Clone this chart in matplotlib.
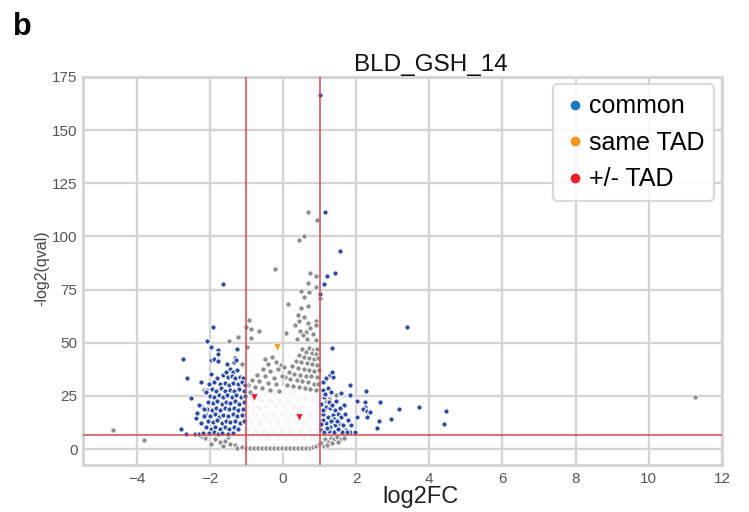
"""
Volcano plot BLD_GSH_14: log2FC vs -log2(qval)
pontos cinza = todos, azul = common, triangulos = same TAD / +/- TAD
"""
import matplotlib
matplotlib.use("Agg")
import matplotlib.pyplot as plt
from matplotlib.lines import Line2D

plt.rcParams["font.family"] = ["Liberation Sans", "DejaVu Sans"]

# --- dados ------------------------------------------------------------------

# pontos cinza visiveis (fora do miolo denso)
gray_x = [0.67, 0.92, 0.56, 0.45, -0.21, 0.74, 0.89, 0.69, 0.89, 0.50, 0.70, 0.56, 1.00,
          0.13, 0.69, 0.50, 0.41, 0.57, 0.45, 0.69, 0.89, 0.32, 0.89, 0.46, 0.64, 0.82,
          0.07, 0.37, 0.65, 0.89, 0.75, 0.55,
          -0.93, -1.02, -0.88, -0.65, -0.88, -1.23, -1.48, -0.98,
          0.52, 0.70, 0.82, 0.93, 0.62, 0.78, 0.90, 0.45, 0.58, 0.72, 0.85, 0.96, 0.35,
          0.50, 0.65, 0.80, 0.92, 0.25, 0.40, 0.56, 0.70, 0.86, 0.97, 0.15, 0.30, 0.46,
          0.62, 0.77, 0.92, 0.05, 0.20, 0.37, 0.53, 0.68, 0.84, 0.96, 0.12, 0.28, 0.44,
          0.60, 0.75, 0.90,
          -0.50, -0.30, -0.40, -0.20, -0.05, -0.55, -0.35, -0.15, 0.04, -0.70, -0.50,
          -0.25, -0.04, -0.85, -0.65, -0.42, -0.20, -0.95, -0.78, -0.58, -0.35, -0.12,
          -0.90, -1.11, -2.16, -2.07,
          -2.14, -1.98, -1.72, -1.58, -1.45, -1.32, -1.27, -1.12, -1.85, -1.65, -1.50, -2.25,
          -1.02, -0.91, -0.80, -0.69, -0.58, -0.47, -0.37, -0.26, -0.15, -0.04, 0.07,
          0.18, 0.29, 0.40, 0.51, 0.62, 0.73, 0.82, 0.90, 0.97,
          1.05, 1.15, 1.22, 1.30, 1.40, 1.48, 1.58, 1.66, 1.12, 1.20, 1.35, 1.50,
          1.44, 1.25, 1.18,
          -4.64, -3.80, 11.26]
gray_y = [111.6, 107.5, 100.1, 98.3, 84.5, 82.8, 81.4, 78.0, 76.3, 74.5, 73.8, 71.3, 71.0,
          68.4, 67.1, 66.4, 62.9, 62.1, 60.4, 59.3, 60.4, 58.1, 58.1, 55.6, 55.1, 54.0,
          54.8, 51.8, 51.6, 51.2, 56.8, 53.4,
          60.6, 57.3, 56.5, 55.6, 52.3, 52.6, 51.0, 48.0,
          47.0, 47.5, 46.8, 47.2, 45.6, 45.3, 44.6, 44.0, 43.2, 43.0, 42.4, 42.9, 41.5,
          40.8, 40.5, 40.0, 39.6, 39.0, 38.2, 37.7, 37.3, 36.8, 37.0, 36.4, 35.5, 35.0,
          34.5, 34.2, 33.7, 33.8, 32.8, 32.3, 31.8, 31.3, 30.8, 30.4, 30.0, 29.5, 29.0,
          28.6, 28.2, 27.8,
          42.4, 43.5, 40.0, 41.0, 39.5, 37.5, 36.8, 37.8, 38.5, 35.0, 34.3,
          33.6, 34.5, 32.5, 31.8, 31.0, 30.6, 30.0, 29.2, 28.5, 28.0, 27.5,
          27.0, 40.2, 27.7, 28.0,
          5.0, 2.3, 3.3, 4.0, 2.5, 1.8, 0.6, 1.0, 4.5, 1.5, 5.5, 6.0,
          0.4, 0.3, 0.4, 0.3, 0.4, 0.3, 0.4, 0.3, 0.4, 0.3, 0.4,
          0.3, 0.4, 0.3, 0.4, 0.5, 0.6, 0.9, 1.2, 2.2,
          3.0, 4.8, 3.2, 5.2, 4.5, 5.6, 4.9, 5.3, 1.5, 2.0, 2.8, 3.3,
          25.4, 23.5, 22.8,
          8.9, 4.2, 24.7]

# miolo denso (quase branco no original: milhares de pontos sobrepostos)
core_x = [-1.00, -0.76, -0.52, -0.27, -0.03, 0.22, 0.46, 0.71, 0.94,
          -1.12, -0.88, -0.63, -0.40, -0.14, 0.10, 0.34, 0.59, 0.83, 1.06,
          -1.00, -0.75, -0.51, -0.26, -0.02, 0.23, 0.47, 0.72, 0.96,
          -1.10, -0.86, -0.62, -0.38, -0.13, 0.11, 0.36, 0.60, 0.85, 1.05,
          -0.98, -0.74, -0.50, -0.25, 0.00, 0.24, 0.49, 0.73, 0.97,
          -0.92, -0.68, -0.43, -0.19, 0.06, 0.30, 0.55, 0.79, 0.99,
          -0.85, -0.60, -0.36, -0.11, 0.13, 0.38, 0.62, 0.86,
          -0.50, -0.25, 0.00, 0.25]
core_y = [1.8, 2.0, 1.7, 2.1, 1.9, 1.8, 2.0, 1.7, 2.2,
          5.5, 5.3, 5.7, 5.4, 5.6, 5.5, 5.2, 5.6, 5.4, 5.8,
          9.3, 9.1, 9.5, 9.2, 9.4, 9.3, 9.0, 9.5, 9.2,
          13.1, 13.3, 12.9, 13.2, 13.0, 13.4, 13.1, 12.8, 13.2, 13.0,
          16.9, 17.1, 16.7, 17.0, 16.8, 17.2, 16.9, 16.6, 17.0,
          20.6, 20.4, 20.8, 20.5, 20.7, 20.3, 20.6, 20.9, 20.5,
          24.0, 24.2, 23.8, 24.1, 23.9, 24.3, 24.0, 23.7,
          26.8, 26.6, 26.9, 26.7]

# genes "common"
blue_x = [1.02, 1.14, 1.55, 1.19, 1.42, -1.63, 1.11, 1.00, 3.38, -1.91, 1.33,
          -2.09, -1.97, -1.78, -1.79, -1.25, -2.74, -1.98, -1.90, -1.77, -1.52, -1.32,
          -1.34, -1.28, -2.62, -2.25, -1.96, -1.64,
          -1.45, -1.38, -1.25, -1.55,
          -1.80, -1.50, -1.40, -1.30, -1.18, -1.10,
          -2.02, -1.88, -1.72, -1.60, -1.48, -1.36, -1.24, -1.12, -1.04,
          -2.10, -1.95, -1.82, -1.70, -1.58, -1.45, -1.33, -1.20, -1.08,
          -2.00, -1.88, -1.76, -1.64, -1.52, -1.40, -1.28, -1.16, -1.05,
          -2.05, -1.92, -1.80, -1.68, -1.56, -1.44, -1.32, -1.20, -1.08,
          -2.08, -1.95, -1.83, -1.71, -1.59, -1.47, -1.35, -1.22, -1.10,
          -2.12, -2.00, -1.87, -1.75, -1.63, -1.50, -1.38, -1.25, -1.12,
          -2.05, -1.92, -1.80, -1.68, -1.56, -1.44, -1.32, -1.18, -1.06,
          -2.10, -1.97, -1.85, -1.72, -1.60, -1.48, -1.35, -1.22,
          -2.02, -1.90, -1.78, -1.66, -1.50, -1.38,
          -2.52, -2.25, -2.15, -2.15, -2.37, -2.25, -2.80, -2.64, -2.42, -2.30, -2.18,
          -2.30, -2.35,
          1.18, 1.28, 1.37, 1.35, 1.09, 1.23, 1.32, 1.08, 1.11, 1.18, 1.28, 1.41, 1.50,
          1.59, 1.53, 1.41, 1.28, 1.18, 1.09, 1.23, 1.37, 1.64, 1.73, 1.82, 1.96, 1.87,
          1.78, 1.69,
          1.82, 1.58, 1.82, 1.66, 2.02, 2.26, 2.23, 2.23, 2.64, 2.19, 2.30, 2.39, 2.03,
          2.30, 2.62, 2.94, 3.16, 2.56, 1.76, 1.62,
          1.05, 1.10, 1.05, 1.15, 1.25, 1.35, 1.45, 1.40, 1.12, 1.25, 1.38, 1.50, 1.55,
          1.05, 1.08, 1.20, 1.47, 1.32,
          3.73, 4.45, 4.39]
blue_y = [166.3, 111.6, 93.3, 81.4, 82.8, 77.5, 77.5, 72.8, 57.3, 57.3, 47.7,
          51.0, 47.9, 46.4, 44.9, 47.2, 42.4, 41.8, 42.3, 41.6, 40.1, 42.8,
          40.8, 41.8, 33.6, 31.6, 35.5, 34.7,
          37.5, 36.2, 37.0, 36.0,
          33.5, 33.8, 34.5, 33.2, 34.0, 33.5,
          30.8, 31.5, 30.5, 31.2, 30.3, 31.0, 30.5, 31.4, 30.0,
          27.0, 28.2, 27.5, 28.5, 27.3, 28.0, 27.5, 28.3, 27.2,
          25.0, 24.5, 25.5, 24.3, 25.2, 24.6, 25.4, 24.4, 25.0,
          22.0, 21.5, 22.5, 21.3, 22.2, 21.6, 22.4, 21.2, 22.0,
          19.0, 18.5, 19.5, 18.3, 19.2, 18.6, 19.4, 18.4, 19.0,
          16.0, 15.5, 16.5, 15.3, 16.2, 15.6, 16.4, 15.4, 16.0,
          13.0, 12.5, 13.5, 12.3, 13.2, 12.6, 13.4, 12.4, 13.0,
          10.5, 9.5, 10.4, 9.3, 10.2, 9.6, 10.5, 9.4,
          7.4, 7.8, 7.2, 7.6, 7.3, 7.7,
          23.8, 20.3, 18.8, 15.5, 14.6, 12.4, 9.2, 7.0, 7.2, 7.2, 7.5,
          20.7, 17.0,
          33.2, 34.7, 34.0, 36.0, 31.6, 28.5, 26.9, 27.7, 24.3, 19.9, 19.1, 18.3, 16.7,
          15.2, 12.1, 11.3, 10.5, 12.1, 13.6, 15.2, 16.0, 11.3, 8.9, 8.1, 8.1, 11.3,
          13.6, 16.7,
          30.0, 26.4, 25.4, 20.7, 22.5, 27.1, 22.1, 20.0, 22.2, 18.6, 17.8, 17.4, 15.2,
          14.9, 13.3, 13.9, 18.6, 9.7, 8.0, 8.0,
          9.0, 16.5, 21.0, 26.0, 22.0, 20.5, 22.5, 14.0, 7.8, 8.5, 8.0, 9.5, 19.5,
          12.0, 18.5, 10.0, 13.2, 13.0,
          20.0, 17.8, 12.0]

# same TAD e +/- TAD
same_x = [-0.17]
same_y = [47.9]
pm_x = [-0.80, 0.43]
pm_y = [24.3, 15.2]

LIMIAR_FC = 1
LIMIAR_Q = 6.64  # -log2(0.01)

# --- grafico ----------------------------------------------------------------
GRADE = "#d4d4d4"
CINZA = "#8e8e8e"
AZUL = "#2b4ca6"
VERMELHO = "#cf4a52"

fig = plt.figure(figsize=(7.49, 5.12), dpi=100)
ax = fig.add_axes([0.1108, 0.0918, 0.853, 0.758])
ax.set_axisbelow(True)
ax.grid(True, color=GRADE, linewidth=1.7)
for sp in ax.spines.values():
    sp.set_color(GRADE)
    sp.set_linewidth(2.0)
ax.tick_params(length=0, labelsize=11, labelcolor="#555555")
ax.tick_params(axis="x", pad=5)
ax.tick_params(axis="y", pad=4)

ax.scatter(core_x, core_y, s=60, c="#f6f6f6", edgecolors="white", linewidths=2.2, zorder=2)
ax.scatter(gray_x, gray_y, s=15, c=CINZA, edgecolors="white", linewidths=0.7, zorder=2)
ax.scatter(blue_x, blue_y, s=15, c=AZUL, edgecolors="white", linewidths=0.8, zorder=3)
ax.scatter(same_x, same_y, s=28, marker="v", c="#f5a01a", edgecolors="white",
           linewidths=0.4, zorder=4)
ax.scatter(pm_x, pm_y, s=28, marker="v", c="#e8202a", edgecolors="white",
           linewidths=0.4, zorder=4)

ax.axvline(-LIMIAR_FC, color=VERMELHO, linewidth=1.1, zorder=5)
ax.axvline(LIMIAR_FC, color=VERMELHO, linewidth=1.1, zorder=5)
ax.axhline(LIMIAR_Q, color=VERMELHO, linewidth=1.1, zorder=5)

ax.set_xlim(-5.47, 12.0)
ax.set_ylim(-7.5, 175)
ax.set_xticks(range(-4, 13, 2))
ax.set_yticks(range(0, 176, 25))

handles = [
    Line2D([], [], marker="o", linestyle="", markersize=6, color="#1f77c4", label="common"),
    Line2D([], [], marker="o", linestyle="", markersize=6, color="#f7941d", label="same TAD"),
    Line2D([], [], marker="o", linestyle="", markersize=6, color="#ee1c25", label="+/- TAD"),
]
leg = ax.legend(handles=handles, loc="upper right", fontsize=18, frameon=True,
                handletextpad=0.05, borderaxespad=0.3, labelspacing=0.5,
                handlelength=1.0, borderpad=0.4, fancybox=True, framealpha=0.85)
leg.get_frame().set_edgecolor(GRADE)
leg.get_frame().set_linewidth(1.6)

fig.text(0.5754, 0.873, "BLD_GSH_14", fontsize=17.5, ha="center", va="center", color="#111111")
fig.text(0.561, 0.030, "log2FC", fontsize=17, ha="center", va="center", color="#222222")
fig.text(0.056, 0.477, "-log2(qval)", fontsize=11.5, rotation=90, ha="center",
         va="center", color="#444444")
fig.text(0.017, 0.932, "b", fontsize=22, weight="bold", ha="left", va="baseline")

fig.savefig("out.png", dpi=100)
